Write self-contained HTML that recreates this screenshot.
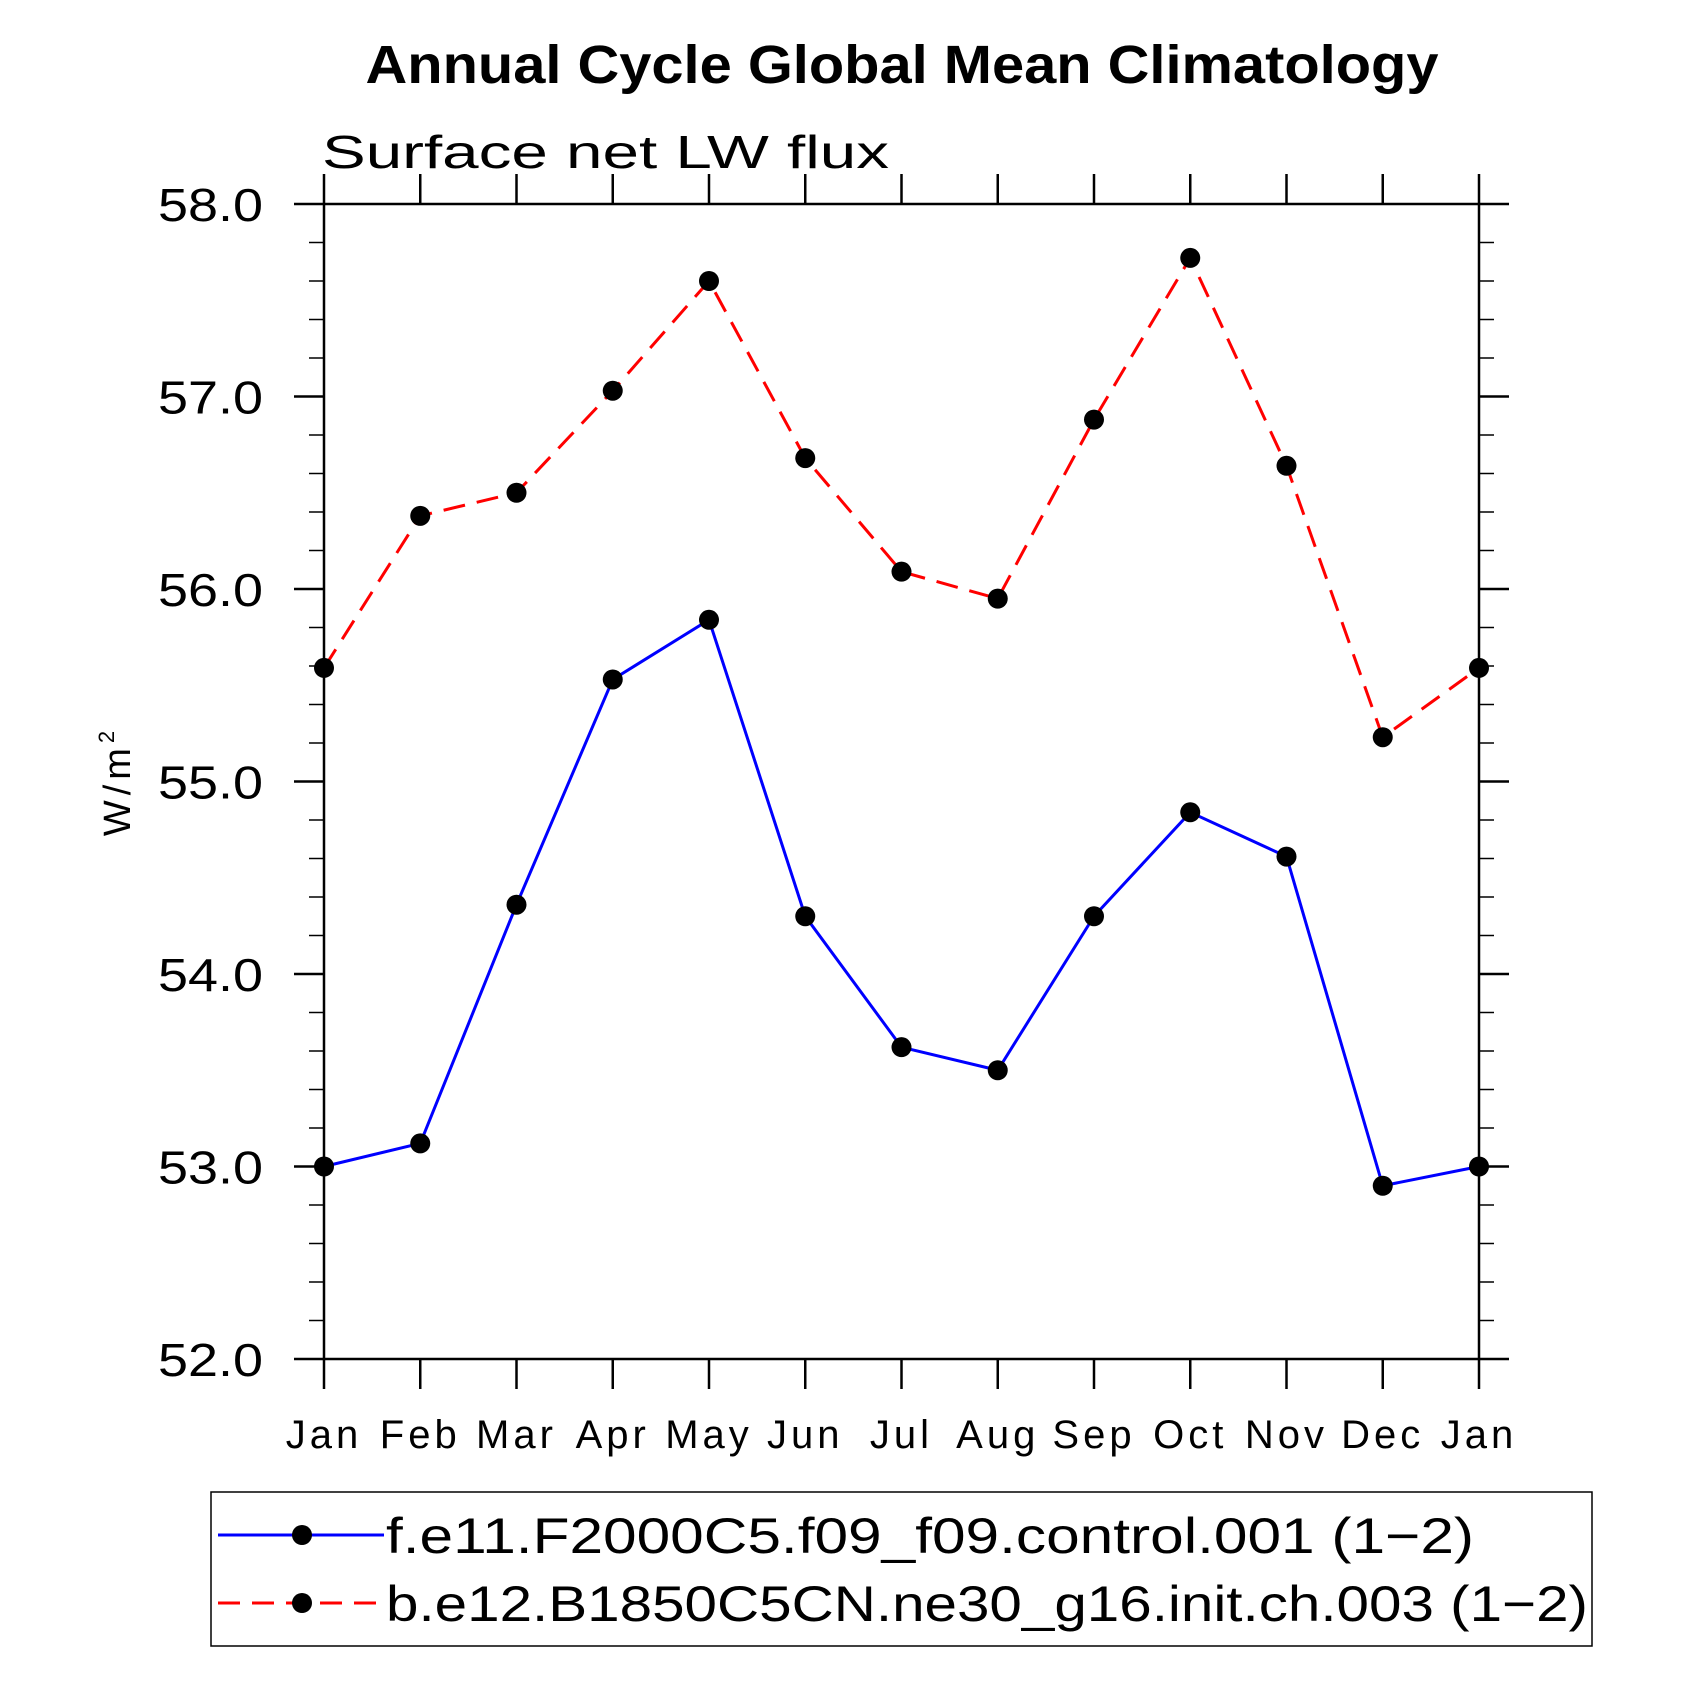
<!DOCTYPE html>
<html><head><meta charset="utf-8"><style>
html,body{margin:0;padding:0;background:#fff;}
svg{display:block;}
text{font-family:"Liberation Sans",sans-serif;fill:#000;}
</style></head><body>
<svg id="chart" width="1685" height="1685" viewBox="0 0 1685 1685" xmlns="http://www.w3.org/2000/svg">
<text x="902" y="83" text-anchor="middle" font-size="54" font-weight="bold" textLength="1073" lengthAdjust="spacingAndGlyphs">Annual Cycle Global Mean Climatology</text>
<text x="322" y="168" font-size="46" textLength="567" lengthAdjust="spacingAndGlyphs">Surface net LW flux</text>
<g id="axes"></g>
<g id="series"></g>
<text transform="translate(130,781) rotate(-90)" text-anchor="middle" font-size="38" letter-spacing="5">W/m<tspan font-size="22" dy="-16">2</tspan></text>
<rect x="211" y="1492" width="1381" height="154" fill="none" stroke="#000" stroke-width="1.5"/>
<g id="legend"></g>
</svg>
<script>
const months = ["Jan","Feb","Mar","Apr","May","Jun","Jul","Aug","Sep","Oct","Nov","Dec","Jan"];
const controlValues = [53.0,53.12,54.36,55.53,55.84,54.30,53.62,53.50,54.30,54.84,54.61,52.90,53.0];
const coupledValues = [55.59,56.38,56.50,57.03,57.60,56.68,56.09,55.95,56.88,57.72,56.64,55.23,55.59];
const yTicks = [52,53,54,55,56,57,58];
const yTickLabels = ["52.0","53.0","54.0","55.0","56.0","57.0","58.0"];
const seriesNames = ["f.e11.F2000C5.f09_f09.control.001 (1\u22122)","b.e12.B1850C5CN.ne30_g16.init.ch.003 (1\u22122)"];

const NS="http://www.w3.org/2000/svg";
const L=324,R=1479,T=204,B=1359,yMin=52,yMax=58;
const xPos=i=>L+(R-L)*i/(months.length-1);
const yPos=v=>B-(B-T)*(v-yMin)/(yMax-yMin);
function mk(tag,attrs,parent){const e=document.createElementNS(NS,tag);for(const k in attrs)e.setAttribute(k,attrs[k]);parent.appendChild(e);return e;}
const axes=document.getElementById('axes');
const frame=mk('rect',{x:L,y:T,width:R-L,height:B-T,fill:'none',stroke:'#000','stroke-width':2.5},axes);


months.forEach((m,i)=>{
  const x=xPos(i);
  const t1=mk('line',{x1:x,y1:B,x2:x,y2:B+30,stroke:'#000','stroke-width':2.5},axes);
  
  
  const t2=mk('line',{x1:x,y1:T,x2:x,y2:T-30,stroke:'#000','stroke-width':2.5},axes);
  
  
  const lb=mk('text',{x:x,y:1448,'text-anchor':'middle','font-size':40,'letter-spacing':4},axes);
  lb.textContent=m;
  
  
});
for(let v=yMin*5;v<=yMax*5;v++){
  const val=v/5,y=yPos(val),major=(v%5===0);
  const len=major?30:15,w=major?2.5:1.5;
  const a=mk('line',{x1:L-len,y1:y,x2:L,y2:y,stroke:'#000','stroke-width':w},axes);
  
  
  const b=mk('line',{x1:R,y1:y,x2:R+len,y2:y,stroke:'#000','stroke-width':w},axes);
  
  
}
yTicks.forEach((v,i)=>{
  const lb=mk('text',{x:158,y:yPos(v)+17,'font-size':46,textLength:105,lengthAdjust:'spacingAndGlyphs'},axes);
  lb.textContent=yTickLabels[i];
  
  
});
const sg=document.getElementById('series');
function drawSeries(vals,color,dash,name){
  const pts=vals.map((v,i)=>xPos(i)+','+yPos(v)).join(' ');
  const pl=mk('polyline',{points:pts,fill:'none',stroke:color,'stroke-width':3,'stroke-dasharray':dash},sg);
  
  
  vals.forEach((v,i)=>{
    const c=mk('circle',{cx:xPos(i),cy:yPos(v),r:10,fill:'#000'},sg);
    
    
  });
}
drawSeries(coupledValues,'#ff0000','22 12','coupled-series');
drawSeries(controlValues,'#0000ff','none','control-series');
const lg=document.getElementById('legend');
const rows=[{y:1535,c:'#0000ff',d:'none',end:1474},{y:1603,c:'#ff0000',d:'22 12',end:1588}];
rows.forEach((r,i)=>{
  const ln=mk('line',{x1:218,y1:r.y,x2:384,y2:r.y,stroke:r.c,'stroke-width':3,'stroke-dasharray':r.d},lg);
  
  
  const c=mk('circle',{cx:302,cy:r.y,r:10,fill:'#000'},lg);
  
  
  const t=mk('text',{x:386,y:r.y+18,'font-size':50,textLength:r.end-386,lengthAdjust:'spacingAndGlyphs'},lg);
  t.textContent=seriesNames[i];
  
  
});
</script>
</body></html>
